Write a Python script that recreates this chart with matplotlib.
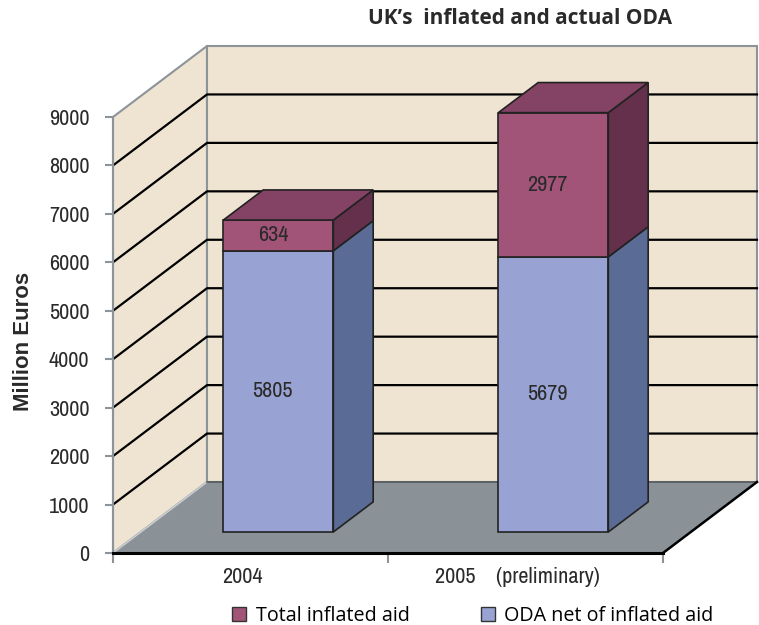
import matplotlib.pyplot as plt
from matplotlib.patches import Polygon, Patch

# data
years = ['2004', '2005    (preliminary)']
oda_net = [5805, 5679]
inflated = [634, 2977]
yticks = list(range(0, 10000, 1000))
series_names = ['Total inflated aid', 'ODA net of inflated aid']

# colours (front, side, top)
wall = '#efe4d2'
floor_c = '#8a9197'
edge_grey = '#8c9399'
blue = ('#99a3d3', '#5a6b96', '#7d87b8')
pink = ('#a25478', '#64304b', '#844264')

narrow = ['Archivo Narrow', 'Liberation Sans Narrow', 'DejaVu Sans']
nsize = 16
ymax = 9000

fig = plt.figure(figsize=(7.59, 6.25), dpi=100)
# axes = front plane of the 3d box
ax = fig.add_axes([113 / 759, 72 / 625, 550 / 759, 436 / 625])
ax.set_xlim(0, 2)
ax.set_ylim(0, ymax)
ax.patch.set_visible(False)

# depth of the box in data units
dx = 94 / 275
dy = 71 / 436 * ymax
bar_w = 0.4
z0, z1 = 0.296, 0.72  # bar front / back as fraction of the depth


def at(x, y, f):
    return (x + f * dx, y + f * dy)


def poly(pts, fc, ec, lw=1.0, z=1):
    ax.add_patch(Polygon(pts, closed=True, facecolor=fc, edgecolor=ec,
                         linewidth=lw, zorder=z, clip_on=False))


# walls and floor
poly([(0, 0), (0, ymax), at(0, ymax, 1), at(0, 0, 1)], wall, edge_grey, 1.5, 0)
poly([at(0, 0, 1), at(0, ymax, 1), at(2, ymax, 1), at(2, 0, 1)], wall, edge_grey, 1.5, 0)
for v in yticks[1:-1]:
    ax.plot([0, dx, 2 + dx], [v, v + dy, v + dy], color='black', lw=1.6,
            zorder=1, clip_on=False)
poly([(0, 0), at(0, 0, 1), at(2, 0, 1), (2, 0)], floor_c, 'none', 0, 2)
ax.plot([0, dx], [0, dy], color='#c8cdd0', lw=1.2, zorder=2, clip_on=False)
ax.plot([dx, 2 + dx], [dy, dy], color='#55595c', lw=1.2, zorder=2, clip_on=False)
ax.plot([2, 2 + dx], [0, dy], color='black', lw=1.8, zorder=2, clip_on=False)

# stacked bars
for i in range(len(years)):
    x0 = i + 0.5 - bar_w / 2
    x1 = x0 + bar_w
    segs = [(0, oda_net[i], blue), (oda_net[i], oda_net[i] + inflated[i], pink)]
    for k, (b, t, cols) in enumerate(segs):
        poly([at(x0, b, z0), at(x1, b, z0), at(x1, t, z0), at(x0, t, z0)],
             cols[0], '#222222', 1.2, 3)
        poly([at(x1, b, z0), at(x1, b, z1), at(x1, t, z1), at(x1, t, z0)],
             cols[1], '#222222', 1.2, 3)
        if k == len(segs) - 1:
            poly([at(x0, t, z0), at(x1, t, z0), at(x1, t, z1), at(x0, t, z1)],
                 cols[2], '#222222', 1.2, 3)
        lx, ly = at((x0 + x1) / 2, (b + t) / 2, z0)
        ax.text(lx - 0.02, ly, str(int(t - b)), ha='center', va='center',
                fontsize=nsize, family=narrow, color='#2a2a2a', zorder=4)

# axes styling
for s in ['top', 'right']:
    ax.spines[s].set_visible(False)
ax.spines['left'].set_color(edge_grey)
ax.spines['left'].set_linewidth(1.5)
ax.spines['bottom'].set_color('black')
ax.spines['bottom'].set_linewidth(2.2)
ax.spines['bottom'].set_zorder(5)
ax.set_yticks(yticks)
ax.set_yticklabels([str(v) for v in yticks], family=narrow, fontsize=nsize,
                   color='#2a2a2a')
ax.tick_params(axis='y', direction='out', length=6, width=1.5,
               color=edge_grey, pad=11)
ax.set_xticks([0, 1, 2])
ax.set_xticklabels([])
ax.tick_params(axis='x', direction='out', length=7, width=1.5, color=edge_grey)
for i, lab in enumerate(years):
    ax.text(i + 0.47, -500, lab, ha='center', va='center', fontsize=nsize,
            family=narrow, color='#2a2a2a', clip_on=False)

fig.text(520 / 759, 1 - 18 / 625, 'UK\u2019s  inflated and actual ODA',
         ha='center', va='center', fontsize=15, fontweight='bold',
         family=['Open Sans', 'DejaVu Sans'], color='#2a2a2a')
fig.text(24 / 759, 1 - 341 / 625, 'Million Euros', rotation=90,
         ha='center', va='center', fontsize=16, fontweight='bold',
         family=['Liberation Sans', 'DejaVu Sans'], color='#2a2a2a')

handles = [Patch(facecolor=pink[0], edgecolor='#333333', lw=1),
           Patch(facecolor=blue[0], edgecolor='#333333', lw=1)]
fig.legend(handles, series_names, loc='center', ncol=2,
           bbox_to_anchor=(473 / 759, 1 - 616 / 625), frameon=False,
           handlelength=0.7, handleheight=0.7, handletextpad=0.5,
           columnspacing=3.6,
           prop={'family': ['Open Sans', 'DejaVu Sans'], 'size': 14.2})

fig.savefig('out.png', dpi=100)
